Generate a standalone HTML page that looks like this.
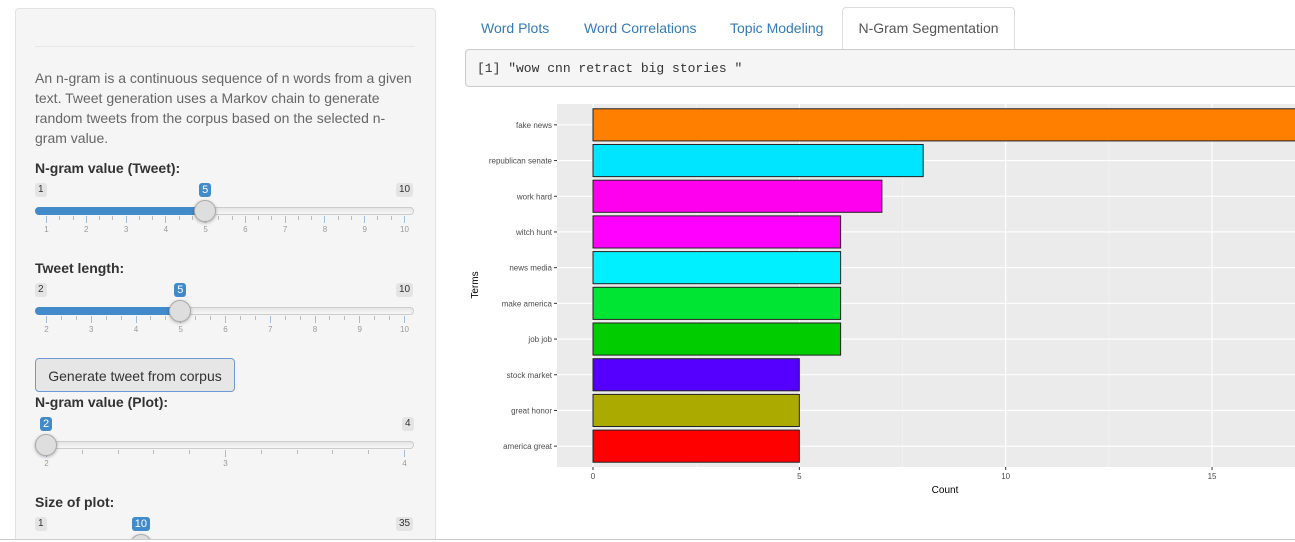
<!DOCTYPE html>
<html><head><meta charset="utf-8">
<style>
html,body{margin:0;width:1295px;height:542px;overflow:hidden;background:#fff;font-family:"Liberation Sans",sans-serif;position:relative}
.well{position:absolute;left:15px;top:8px;width:419px;height:540px;background:#f5f5f5;border:1px solid #e3e3e3;border-radius:4px}
.abs{position:absolute}
.lbl{position:absolute;left:35px;font-weight:bold;font-size:14px;color:#333}
.minmax{position:absolute;font-size:10px;background:#e4e4e4;color:#333;padding:1px 3px;border-radius:3px;line-height:12px}
.val{position:absolute;font-size:11px;background:#428bca;color:#fff;padding:1px 3px;border-radius:3px;line-height:12px}
.track{position:absolute;left:35px;width:379px;height:8px;border-radius:4px;background:linear-gradient(#e6e6e6,#f6f6f6);border:1px solid #ccc;box-sizing:border-box}
.fill{position:absolute;left:35px;height:8px;border-radius:4px 0 0 4px;background:#428bca}
.handle{position:absolute;width:22px;height:22px;border-radius:50%;background:#dedede;border:1px solid #aaa;box-sizing:border-box;box-shadow:0 1px 3px rgba(0,0,0,.3)}
.tick{position:absolute;width:1px;background:#bbb}
.tick.maj{background:#9ebfdc}
.tlab{position:absolute;font-size:8px;color:#999;transform:translateX(-50%)}
.tab{position:absolute;top:20px;font-size:14px;color:#337ab7}
</style></head><body>
<div class="well"></div>
<div class="abs" style="left:35px;top:46px;width:380px;height:1px;background:#e8e8e8"></div>
<div class="abs" style="left:35px;top:68px;width:378px;font-size:14px;line-height:20px;color:#666">An n-gram is a continuous sequence of n words from a given text. Tweet generation uses a Markov chain to generate random tweets from the corpus based on the selected n-gram value.</div>
<div class="lbl" style="top:160px">N-gram value (Tweet):</div>
<div class="lbl" style="top:260px">Tweet length:</div>
<div class="abs" style="left:35px;top:358px;width:200px;height:34px;border:1px solid #6d9ad6;border-radius:4px;background:#e6e6e6;font-size:14px;color:#333;text-align:center;line-height:34px;box-sizing:border-box">Generate tweet from corpus</div>
<div class="lbl" style="top:394px">N-gram value (Plot):</div>
<div class="lbl" style="top:494px">Size of plot:</div>
<div id="sliders"></div>

<div class="tab" style="left:481px">Word Plots</div>
<div class="tab" style="left:584px">Word Correlations</div>
<div class="tab" style="left:730px">Topic Modeling</div>
<div class="abs" style="left:842px;top:7px;width:171px;height:42px;border:1px solid #ddd;border-bottom:none;border-radius:4px 4px 0 0;background:#fff;font-size:14px;color:#555;text-align:center;line-height:41px">N-Gram Segmentation</div>
<div class="abs" style="left:465px;top:49px;width:840px;height:38px;background:#f5f5f5;border:1px solid #ccc;border-radius:4px;font-family:'Liberation Mono',monospace;font-size:13px;color:#333;line-height:38px;padding-left:11px;box-sizing:border-box">[1] "wow cnn retract big stories "</div>
<div class="abs" style="left:0;top:539px;width:1295px;height:3px;background:#fff;border-top:1px solid #ccc"></div>

<svg id="chart" class="abs" style="left:0;top:0" width="1295" height="542"></svg>

<script>
const categories=["fake news","republican senate","work hard","witch hunt","news media","make america","job job","stock market","great honor","america great"];
const counts=[18,8,7,6,6,6,6,5,5,5];
const colors=["#ff7f00","#00e5ff","#ff00ee","#ff00ff","#00f0ff","#00e533","#00cc00","#5500ff","#aaaa00","#ff0000"];
const xTicks=[0,5,10,15];
const xTickLabels=["0","5","10","15"];

const NS="http://www.w3.org/2000/svg";
const svg=document.getElementById('chart');
function mk(tag,attrs,parent){const e=document.createElementNS(NS,tag);for(const k in attrs)e.setAttribute(k,attrs[k]);(parent||svg).appendChild(e);return e;}
const PL=557,PR=1300,PT=107,PB=464;
const x=v=>593+v*41.27;
const step=(PB-PT)/categories.length;
const y=i=>PT+step*(i+0.5);
const bg=mk('rect',{x:PL,y:PT-3,width:PR-PL,height:PB-PT+6,fill:'#ebebeb'});


for(let v=2.5;v<20;v+=5){const l=mk('line',{x1:x(v),x2:x(v),y1:PT-3,y2:PB+3,stroke:'#f5f5f5','stroke-width':0.6});

}
xTicks.forEach((t,i)=>{const l=mk('line',{x1:x(t),x2:x(t),y1:PT-3,y2:PB+3,stroke:'#fff','stroke-width':1.1});


mk('line',{x1:x(t),x2:x(t),y1:PB+3,y2:PB+6,stroke:'#333','stroke-width':1});
const tx=mk('text',{x:x(t),y:PB+15,'font-size':8,fill:'#4d4d4d','text-anchor':'middle'});tx.textContent=xTickLabels[i];

});
categories.forEach((c,i)=>{const l=mk('line',{x1:PL,x2:PR,y1:y(i),y2:y(i),stroke:'#fff','stroke-width':1.1});

});
categories.forEach((c,i)=>{const bh=step*0.9;
const r=mk('rect',{x:x(0),y:y(i)-bh/2,width:x(counts[i])-x(0),height:bh,fill:colors[i],stroke:'#222','stroke-width':1});


mk('line',{x1:PL-3,x2:PL,y1:y(i),y2:y(i),stroke:'#333','stroke-width':1});
const t=mk('text',{x:PL-5,y:y(i)+3,'font-size':8,fill:'#4d4d4d','text-anchor':'end'});t.textContent=c;

});
const xt=mk('text',{x:945,y:493,'font-size':10,fill:'#000','text-anchor':'middle'});xt.textContent='Count';


const yt=mk('text',{x:478,y:285,'font-size':10,fill:'#000','text-anchor':'middle',transform:'rotate(-90 478 285)'});yt.textContent='Terms';



// sliders
const sl=document.getElementById('sliders');
function slider(top,min,max,val,sub,name){
  const g0=46,g1=404,pos=v=>g0+(v-min)/(max-min)*(g1-g0);
  const d=document.createElement('div');sl.appendChild(d);
  
  
  let h='';
  if(val!==min)h+=`<div class="minmax" style="left:35px;top:${top}px">${min}</div>`;
  h+=`<div class="minmax" style="left:${414-String(max).length*6-6}px;top:${top}px">${max}</div>`;
  const hv=pos(val);
  h+=`<div class="track" style="top:${top+24}px"></div>`;
  h+=`<div class="fill" style="top:${top+24}px;width:${hv-35}px"></div>`;
  if(max-min<=10){const n=(max-min)*sub;for(let k=0;k<=n;k++){const v=min+k/sub;const maj=k%sub==0;
    h+=`<div class="tick${maj?' maj':''}" style="left:${pos(v)}px;top:${top+33}px;height:${maj?7:4}px"></div>`;
    if(maj)h+=`<div class="tlab" style="left:${pos(v)+.5}px;top:${top+42}px">${v}</div>`;}}
  h+=`<div class="val" style="left:${hv-String(val).length*3-3}px;top:${top}px">${val}</div>`;
  h+=`<div class="handle" style="left:${hv-11}px;top:${top+17}px"></div>`;
  d.innerHTML=h;
}
slider(183,1,10,5,3,'ngram-tweet-slider');
slider(283,2,10,5,3,'tweet-length-slider');
slider(417,2,4,2,5,'ngram-plot-slider');
slider(517,1,35,10,1,'size-of-plot-slider');
</script>
</body></html>
